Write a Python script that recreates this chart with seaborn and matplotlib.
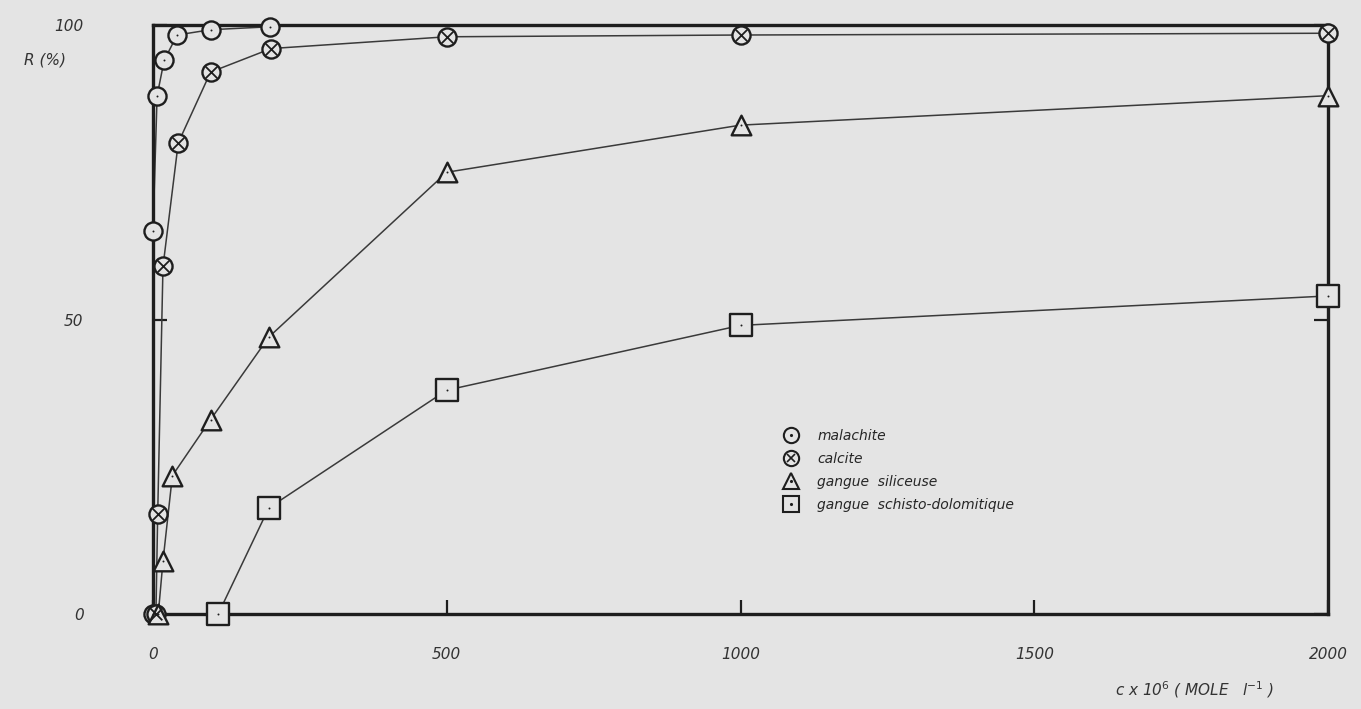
import pandas as pd
import matplotlib.pyplot as plt
import seaborn as sns
from matplotlib.lines import Line2D

# 读出来的数据点 (c x 10^6, R %)
mal_x = [0, 0, 7, 19, 41, 98, 199]
mal_y = [0, 65, 88, 94, 98.3, 99.2, 99.7]
cal_x = [5, 8, 17, 43, 98, 201, 500, 1000, 2000]
cal_y = [0, 17, 59, 80, 92, 96, 98, 98.3, 98.6]
sil_x = [9, 17, 33, 98, 197, 500, 1000, 2000]
sil_y = [0, 9, 23.5, 33, 47, 75, 83, 88]
sch_x = [111, 197, 500, 1000, 2000]
sch_y = [0, 18, 38, 49, 54]

series_names = ["malachite", "calcite", "gangue  siliceuse", "gangue  schisto-dolomitique"]
x_ticks = [0, 500, 1000, 1500, 2000]
y_ticks = [0, 50, 100]

bg = "#e4e4e4"
ink = "#1e1e1e"

sns.set_style("white")
plt.rcParams["font.family"] = ["DejaVu Sans"]
plt.rcParams["mathtext.default"] = "it"

frames = []
for name, xs, ys in zip(series_names, [mal_x, cal_x, sil_x, sch_x], [mal_y, cal_y, sil_y, sch_y]):
    frames.append(pd.DataFrame({"c": xs, "R": ys, "serie": name}))
df = pd.concat(frames, ignore_index=True)

fig = plt.figure(figsize=(13.61, 7.09), dpi=100, facecolor=bg)
ax = fig.add_axes([153 / 1361, 95 / 709, 1175 / 1361, 589 / 709])
ax.set_facecolor(bg)

# 曲线
sns.lineplot(data=df, x="c", y="R", hue="serie", palette=["#3a3a3a"] * 4,
             sort=False, estimator=None, linewidth=1.1, legend=False, ax=ax)

# 标记
outer = {"malachite": ("o", 170), "calcite": ("o", 170),
         "gangue  siliceuse": ("^", 200), "gangue  schisto-dolomitique": ("s", 230)}
for name in series_names:
    sub = df[df["serie"] == name]
    m, s = outer[name]
    sns.scatterplot(data=sub, x="c", y="R", marker=m, s=s, facecolor=bg,
                    edgecolor=ink, linewidth=1.7, clip_on=False, zorder=4, ax=ax)
    if name == "calcite":
        sns.scatterplot(data=sub, x="c", y="R", marker="x", s=70, color=ink,
                        linewidth=1.3, clip_on=False, zorder=5, ax=ax)
    else:
        sns.scatterplot(data=sub, x="c", y="R", marker=".", s=8, color=ink,
                        linewidth=0, clip_on=False, zorder=5, ax=ax)

ax.set_xlim(0, 2000)
ax.set_ylim(0, 100)
ax.set_xticks(x_ticks)
ax.set_yticks(y_ticks)
ax.set_xticklabels([str(t) for t in x_ticks], fontstyle="italic", fontsize=11, color="#333333")
ax.set_yticklabels([str(t) for t in y_ticks], fontstyle="italic", fontsize=11, color="#333333")
ax.tick_params(axis="x", direction="in", length=10, width=1.6, color=ink, pad=24,
               bottom=True, top=False)
ax.tick_params(axis="y", direction="in", length=10, width=1.6, color=ink, pad=50,
               left=True, right=True)
ax.set_xlabel("")
ax.set_ylabel("")
for sp in ax.spines.values():
    sp.set_linewidth(2.4)
    sp.set_color(ink)

# 图例
def mk(m, ms):
    return Line2D([], [], ls="none", marker=m, ms=ms, mfc=bg, mec=ink, mew=1.5)

dot = Line2D([], [], ls="none", marker=".", ms=2.5, color=ink)
cross = Line2D([], [], ls="none", marker="x", ms=6, mew=1.2, color=ink)
handles = [(mk("o", 11), dot), (mk("o", 11), cross), (mk("^", 12), dot), (mk("s", 12), dot)]
ax.legend(handles, series_names, loc="upper left", bbox_to_anchor=(0.525, 0.335),
          frameon=False, handlelength=1.2, handletextpad=1.3, labelspacing=0.65,
          prop={"style": "italic", "size": 10})

fig.text(45 / 1361, 1 - 60 / 709, "R (%)", fontstyle="italic", fontsize=11,
         color="#333333", ha="center", va="center")
fig.text(1195 / 1361, 1 - 690 / 709, "c x 10$^6$ ( MOLE   l$^{-1}$ )", fontstyle="italic",
         fontsize=11, color="#333333", ha="center", va="center")

fig.savefig("out.png", dpi=100, facecolor=bg)
